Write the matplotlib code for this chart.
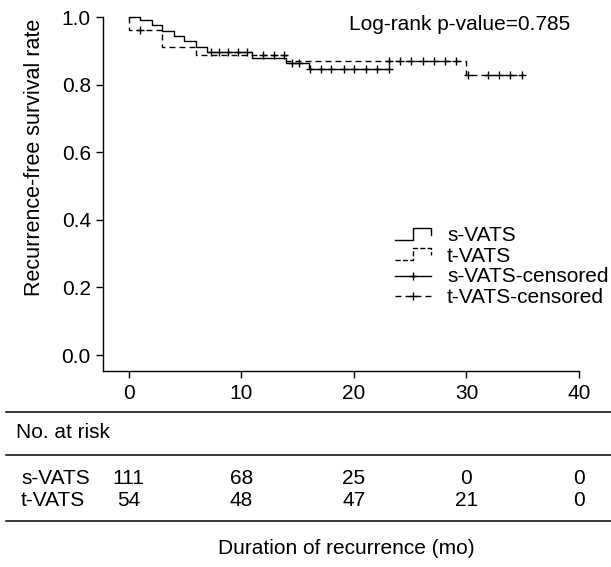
import numpy as np
import matplotlib
matplotlib.use('Agg')
import matplotlib.pyplot as plt
import matplotlib.transforms as mtransforms
from matplotlib.lines import Line2D
from matplotlib.legend_handler import HandlerBase

plt.rcParams['font.family'] = ['Liberation Sans', 'DejaVu Sans']
plt.rcParams['font.size'] = 15

# Kaplan-Meier steps
s_time = [0, 1.0, 2.1, 3.0, 4.0, 4.9, 6.0, 7.0, 11.0, 14.0, 16.0, 23.1]
s_surv = [1.0, 0.991, 0.976, 0.958, 0.945, 0.930, 0.912, 0.896, 0.879, 0.865, 0.848, 0.848]
s_cens = [7.3, 8.0, 8.8, 9.7, 10.5, 14.5, 15.1, 16.1, 17.1, 18.0, 19.1, 20.0, 21.1, 22.1, 23.1]

t_time = [0, 0, 3.0, 6.0, 14.0, 30.0, 34.9]
t_surv = [1.0, 0.963, 0.912, 0.889, 0.871, 0.830, 0.830]
t_cens = [1.0, 11.9, 12.9, 13.8, 23.1, 24.1, 25.1, 26.1, 27.1, 28.1, 29.1,
          30.1, 31.9, 32.9, 33.9, 34.9]

# number at risk table
risk_times = [0, 10, 20, 30, 40]
s_risk = [111, 68, 25, 0, 0]
t_risk = [54, 48, 47, 21, 0]

DASH = (0, (4.3, 2.9))


def surv_at(times, surv, pts):
    idx = np.searchsorted(times, pts, side='right') - 1
    return np.asarray(surv)[idx]


class StepHandler(HandlerBase):
    # little step glyph like the R legend
    def create_artists(self, legend, orig_handle, xdescent, ydescent,
                       width, height, fontsize, trans):
        x0 = -xdescent
        y0 = -ydescent
        xs = [x0, x0 + 0.5 * width, x0 + 0.5 * width, x0 + width, x0 + width]
        ys = [y0, y0, y0 + height, y0 + height, y0 + 0.4 * height]
        ln = Line2D(xs, ys, color=orig_handle.get_color(),
                    linestyle=orig_handle.get_linestyle(),
                    linewidth=orig_handle.get_linewidth())
        ln.set_transform(trans)
        return [ln]


W, H = 611, 567
fig = plt.figure(figsize=(W / 100, H / 100), dpi=100)
ax = fig.add_axes([103.3 / W, (H - 370.5) / H, 487 / W, (370.5 - 7) / H])

ax.set_xlim(-2.25, 41)
ax.set_ylim(-0.0456, 1.03)
for side in ['top', 'right']:
    ax.spines[side].set_visible(False)
ax.spines['left'].set_bounds(-0.0456, 1.0)
ax.spines['bottom'].set_bounds(-2.25, 40)
for side in ['left', 'bottom']:
    ax.spines[side].set_linewidth(1.0)

ax.set_xticks(risk_times)
ax.set_yticks(np.arange(0, 1.01, 0.2))
ax.yaxis.set_major_formatter('{x:.1f}')
ax.tick_params(axis='both', direction='out', length=5, width=1, colors='black')
ax.tick_params(axis='x', pad=5)
ax.tick_params(axis='y', pad=4)

h1 = ax.step(s_time, s_surv, where='post', color='black', lw=1.0)[0]
h2 = ax.step(t_time, t_surv, where='post', color='black', lw=1.0, ls=DASH)[0]
ax.plot(s_cens, surv_at(s_time, s_surv, s_cens), ls='none', marker='+',
        ms=6, mew=1, color='black')
ax.plot(t_cens, surv_at(t_time, t_surv, t_cens), ls='none', marker='+',
        ms=6, mew=1, color='black')

c1 = Line2D([], [], color='black', lw=1.0, marker='+', ms=6, mew=1)
c2 = Line2D([], [], color='black', lw=1.0, ls=DASH, marker='+', ms=6, mew=1)
ax.legend([h1, h2, c1, c2],
          ['s-VATS', 't-VATS', 's-VATS-censored', 't-VATS-censored'],
          handler_map={h1: StepHandler(), h2: StepHandler()},
          loc='upper left', bbox_to_anchor=(395 / W, 1 - 226 / H),
          bbox_transform=fig.transFigure, frameon=False, fontsize=15,
          borderpad=0, borderaxespad=0, handlelength=1.75, handleheight=0.5,
          handletextpad=0.75, labelspacing=0.08, numpoints=1)

fig.text(570 / W, 1 - 25 / H, 'Log-rank p-value=0.785', ha='right', va='center')
fig.text(35 / W, 1 - 157 / H, 'Recurrence-free survival rate', rotation=90,
         ha='center', va='center', fontsize=15.5)

# number at risk table under the plot
for yl in [412, 455, 521]:
    fig.add_artist(Line2D([6 / W, 1], [1 - yl / H, 1 - yl / H],
                          transform=fig.transFigure, color='black', lw=1.1))
fig.text(16 / W, 1 - 433 / H, 'No. at risk', ha='left', va='center')

trans = mtransforms.blended_transform_factory(ax.transData, fig.transFigure)
for label, counts, yr in [('s-VATS', s_risk, 479), ('t-VATS', t_risk, 500)]:
    fig.text(21 / W, 1 - yr / H, label, ha='left', va='center')
    for t, n in zip(risk_times, counts):
        fig.text(t, 1 - yr / H, str(n), transform=trans, ha='center', va='center')

fig.text(346 / W, 1 - 548 / H, 'Duration of recurrence (mo)', ha='center', va='center')

fig.savefig('out.png', dpi=100)
